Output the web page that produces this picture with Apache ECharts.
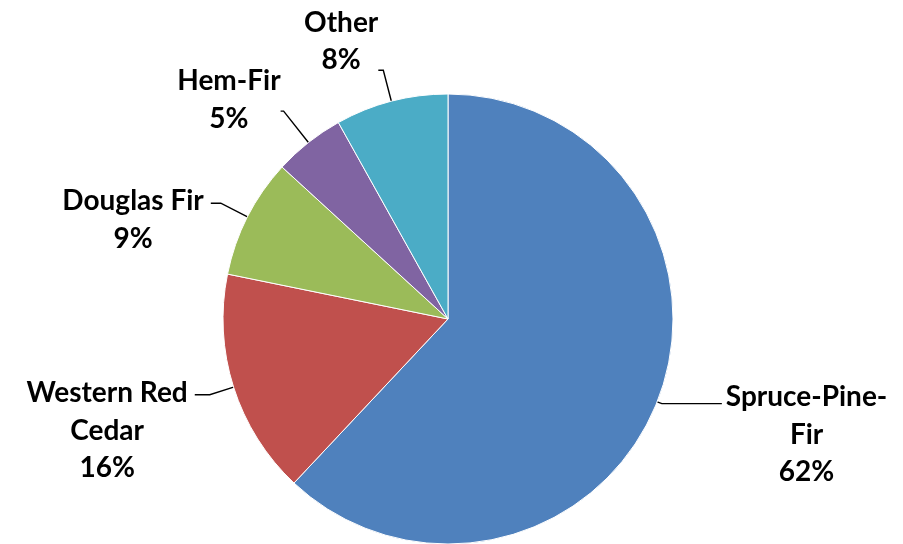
<!DOCTYPE html>
<html>
<head>
<meta charset="utf-8">
<script src="https://cdn.jsdelivr.net/npm/echarts@6/dist/echarts.min.js"></script>
<style>
html,body{margin:0;padding:0;background:#fff;}
#chart{width:903px;height:544px;}
</style>
</head>
<body>
<div id="chart"></div>
<script>
// Data (shares; labels round to 62/16/9/5/8 %)
var categories = ['Spruce-Pine-Fir', 'Western Red Cedar', 'Douglas Fir', 'Hem-Fir', 'Other'];
var labelNames = [['Spruce-Pine-', 'Fir'], ['Western Red', 'Cedar'], ['Douglas Fir'], ['Hem-Fir'], ['Other']];
var values = [62.0, 16.2, 8.6, 5.1, 8.1];
var colors = ['#4F81BD', '#C0504D', '#9BBB59', '#8064A2', '#4BACC6'];

// Per-slice label line styling (lengths / padding only)
var lineLen = [5, 25, 30, 40, 32];
var lineLen2 = [60, 15, 10, 3, 5];
var labelDist = [4, 7, 7, 0, 0];
var labelPad = [[62, 0, 0, 0], [72, 0, 0, 0], [33, 0, 0, 0], [0, 0, 22, 0], [0, 0, 58, 0]];

var chart = echarts.init(document.getElementById('chart'), null, {renderer: 'canvas'});

var data = categories.map(function (c, i) {
  return {
    name: c,
    value: values[i],
    itemStyle: {color: colors[i]},
    label: {distanceToLabelLine: labelDist[i], padding: labelPad[i]},
    labelLine: {length: lineLen[i], length2: lineLen2[i]}
  };
});

chart.setOption({
  animation: false,
  backgroundColor: '#ffffff',
  series: [{
    type: 'pie',
    center: [448, 319],
    radius: 225,
    startAngle: 90,
    clockwise: true,
    avoidLabelOverlap: false,
    data: data,
    itemStyle: {borderColor: '#ffffff', borderWidth: 1},
    label: {
      show: true,
      position: 'outside',
      alignTo: 'none',
      formatter: function (p) {
        var lines = labelNames[p.dataIndex].slice();
        lines.push(Math.round(p.percent) + '%');
        return lines.map(function (l) { return '{a|' + l + '}'; }).join('\n');
      },
      rich: {
        a: {
          fontFamily: 'Lato',
          fontWeight: 'bold',
          fontSize: 28,
          lineHeight: 37.5,
          color: '#000000',
          align: 'center'
        }
      }
    },
    labelLine: {
      show: true,
      lineStyle: {color: '#000000', width: 1.4}
    },
    emphasis: {disabled: true}
  }]
});
</script>
</body>
</html>
